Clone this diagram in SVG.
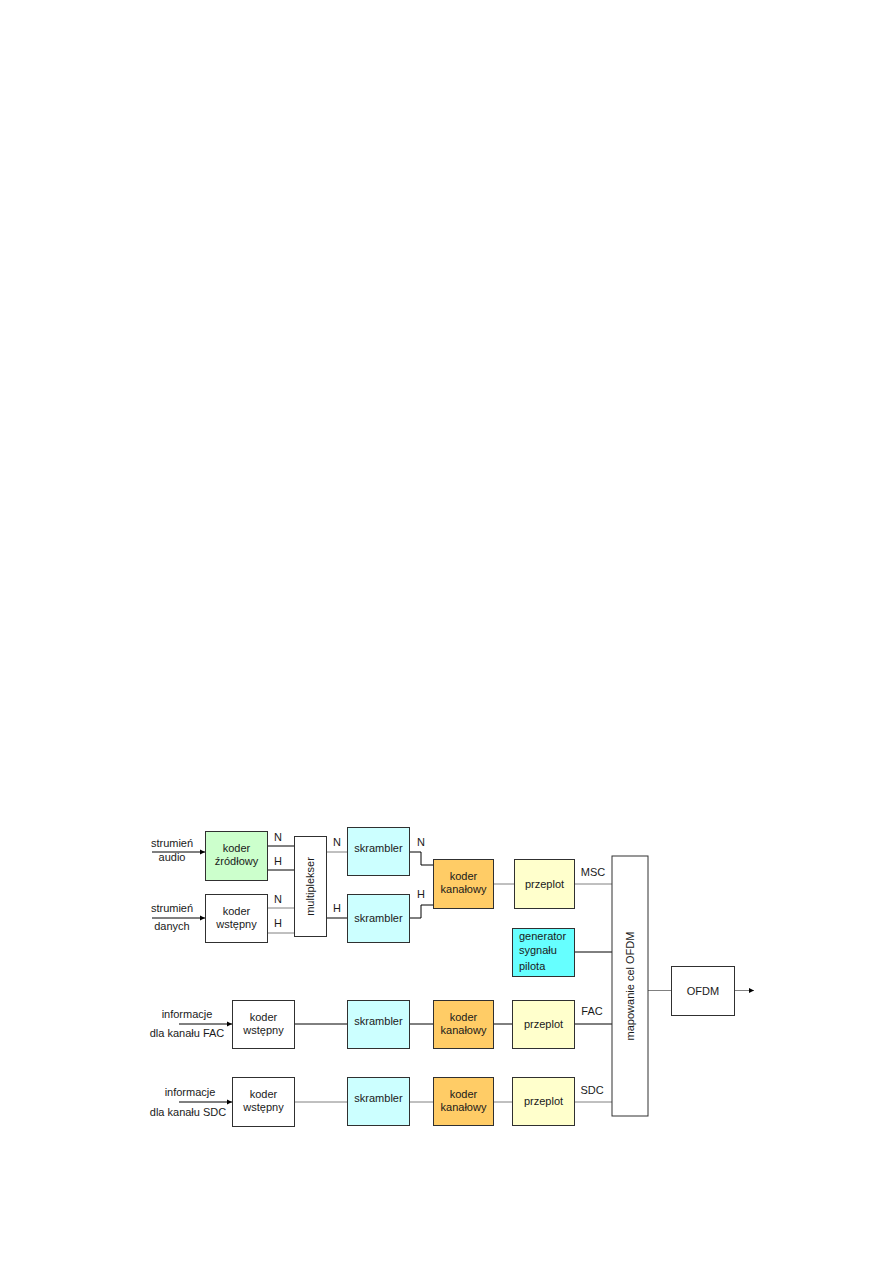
<svg xmlns="http://www.w3.org/2000/svg" width="893" height="1263" viewBox="0 0 893 1263">
<defs>
<marker id="arr" markerWidth="6" markerHeight="6" refX="5" refY="3" orient="auto" markerUnits="userSpaceOnUse">
<path d="M0,0.5 L5,3 L0,5.5 z" fill="#000"/>
</marker>
<style>
text{font-family:"Liberation Sans",Arial,sans-serif;font-size:11px;fill:#1a1a1a}
.c{text-anchor:middle}
.b{stroke:#303030;stroke-width:1}
.lk{stroke:#000;stroke-width:1;fill:none}
.lg{stroke:#808080;stroke-width:1;fill:none}
.w{fill:#fff}
.g{fill:#ccffcc}
.s{fill:#ccffff}
.k{fill:#ffcc66}
.p{fill:#ffffcc}
.cy{fill:#66ffff}
</style>
</defs>
<rect width="893" height="1263" fill="#fff"/>
<g id="connectors">
<line class="lk" x1="152" y1="852" x2="205" y2="852" marker-end="url(#arr)"/>
<line class="lk" x1="152" y1="918" x2="205" y2="918" marker-end="url(#arr)"/>
<line class="lk" x1="267" y1="846" x2="294" y2="846"/>
<line class="lk" x1="267" y1="870" x2="294" y2="870"/>
<line class="lg" x1="267" y1="908" x2="294" y2="908"/>
<line class="lg" x1="267" y1="933" x2="294" y2="933"/>
<line class="lg" x1="326" y1="852" x2="347" y2="852"/>
<line class="lk" x1="326" y1="918" x2="347" y2="918"/>
<polyline class="lk" points="410,852 421,852 421,865 433,865"/>
<polyline class="lk" points="410,918 421,918 421,905 433,905"/>
<line class="lg" x1="493" y1="884" x2="514" y2="884"/>
<line class="lg" x1="574" y1="884" x2="612" y2="884"/>
<line class="lk" x1="574" y1="952" x2="612" y2="952"/>
<line class="lk" x1="179" y1="1024" x2="232" y2="1024" marker-end="url(#arr)"/>
<line class="lk" x1="295" y1="1024" x2="347" y2="1024"/>
<line class="lk" x1="410" y1="1024" x2="433" y2="1024"/>
<line class="lk" x1="493" y1="1024" x2="512" y2="1024"/>
<line class="lk" x1="574" y1="1024" x2="612" y2="1024"/>
<line class="lk" x1="179" y1="1102" x2="232" y2="1102" marker-end="url(#arr)"/>
<line class="lg" x1="295" y1="1102" x2="347" y2="1102"/>
<line class="lg" x1="410" y1="1102" x2="433" y2="1102"/>
<line class="lg" x1="493" y1="1102" x2="512" y2="1102"/>
<line class="lg" x1="574" y1="1102" x2="612" y2="1102"/>
<line class="lg" x1="648" y1="990.5" x2="671" y2="990.5"/>
<line class="lg" x1="734" y1="990.5" x2="754" y2="990.5" marker-end="url(#arr)"/>
<text x="172" y="847" class="c">strumień</text>
<text x="172" y="861" class="c">audio</text>
<text x="172" y="912" class="c">strumień</text>
<text x="172" y="930" class="c">danych</text>
<text x="278" y="841" class="c">N</text>
<text x="278" y="865" class="c">H</text>
<text x="278" y="903" class="c">N</text>
<text x="278" y="927" class="c">H</text>
<text x="337" y="846" class="c">N</text>
<text x="337" y="912" class="c">H</text>
<text x="421" y="846" class="c">N</text>
<text x="421" y="898" class="c">H</text>
<text x="593" y="876" class="c">MSC</text>
<text x="592" y="1015" class="c">FAC</text>
<text x="592" y="1094" class="c">SDC</text>
<text x="187" y="1018" class="c">informacje</text>
<text x="187" y="1037" class="c">dla kanału FAC</text>
<text x="190" y="1096" class="c">informacje</text>
<text x="188" y="1116" class="c">dla kanału SDC</text>
</g>
<g id="koder-zrodlowy"><rect class="b g" x="205.5" y="831.5" width="62" height="49"/><text x="236.5" y="852" class="c">koder</text><text x="236.5" y="865" class="c">źródłowy</text></g>
<g id="koder-wstepny-1"><rect class="b w" x="205.5" y="894.5" width="62" height="48"/><text x="236.5" y="915" class="c">koder</text><text x="236.5" y="928" class="c">wstępny</text></g>
<g id="multiplekser"><rect class="b w" x="294.5" y="836.5" width="32" height="100"/><text class="c" transform="translate(314,886.5) rotate(-90)">multiplekser</text></g>
<g id="skrambler-1"><rect class="b s" x="347.5" y="827.5" width="62" height="48"/><text x="378.5" y="852" class="c">skrambler</text></g>
<g id="skrambler-2"><rect class="b s" x="347.5" y="894.5" width="62" height="48"/><text x="378.5" y="922" class="c">skrambler</text></g>
<g id="koder-kanalowy-1"><rect class="b k" x="433.5" y="859.5" width="60" height="49"/><text x="463.5" y="880" class="c">koder</text><text x="463.5" y="893" class="c">kanałowy</text></g>
<g id="przeplot-1"><rect class="b p" x="514.5" y="859.5" width="60" height="49"/><text x="544.5" y="888" class="c">przeplot</text></g>
<g id="generator"><rect class="b cy" x="512.5" y="928.5" width="62" height="48"/><text x="519" y="940">generator</text><text x="519" y="954">sygnału</text><text x="519" y="970">pilota</text></g>
<g id="mapowanie"><rect class="b w" x="612" y="856" width="36" height="260"/><text class="c" transform="translate(634,986) rotate(-90)">mapowanie cel OFDM</text></g>
<g id="ofdm"><rect class="b w" x="671.5" y="966.5" width="63" height="49"/><text x="703" y="995" class="c">OFDM</text></g>
<g id="koder-wstepny-fac"><rect class="b w" x="232.5" y="1000.5" width="62" height="48"/><text x="263.5" y="1021" class="c">koder</text><text x="263.5" y="1034" class="c">wstępny</text></g>
<g id="skrambler-fac"><rect class="b s" x="347.5" y="1000.5" width="62" height="48"/><text x="378.5" y="1025" class="c">skrambler</text></g>
<g id="koder-kanalowy-fac"><rect class="b k" x="433.5" y="1000.5" width="60" height="48"/><text x="463.5" y="1021" class="c">koder</text><text x="463.5" y="1034" class="c">kanałowy</text></g>
<g id="przeplot-fac"><rect class="b p" x="512.5" y="1000.5" width="62" height="48"/><text x="543.5" y="1028" class="c">przeplot</text></g>
<g id="koder-wstepny-sdc"><rect class="b w" x="232.5" y="1077.5" width="62" height="49"/><text x="263.5" y="1098" class="c">koder</text><text x="263.5" y="1111" class="c">wstępny</text></g>
<g id="skrambler-sdc"><rect class="b s" x="347.5" y="1077.5" width="62" height="48"/><text x="378.5" y="1102" class="c">skrambler</text></g>
<g id="koder-kanalowy-sdc"><rect class="b k" x="433.5" y="1077.5" width="60" height="48"/><text x="463.5" y="1098" class="c">koder</text><text x="463.5" y="1111" class="c">kanałowy</text></g>
<g id="przeplot-sdc"><rect class="b p" x="512.5" y="1077.5" width="62" height="48"/><text x="543.5" y="1105" class="c">przeplot</text></g>
</svg>
